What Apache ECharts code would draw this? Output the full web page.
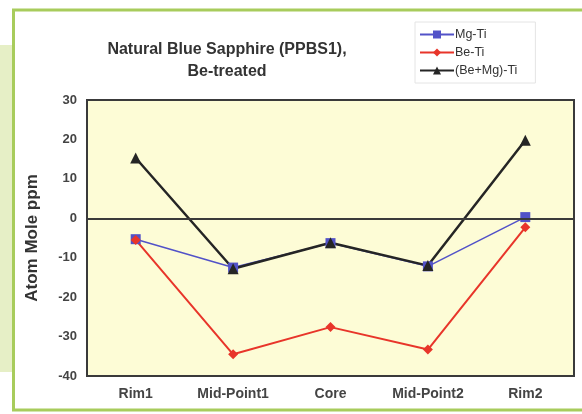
<!DOCTYPE html>
<html>
<head>
<meta charset="utf-8">
<script src="https://cdn.jsdelivr.net/npm/echarts@6/dist/echarts.min.js"></script>
<style>
html,body{margin:0;padding:0;background:#fff;}
#c{width:582px;height:414px;}
</style>
</head>
<body>
<div id="c"></div>
<script>
const categories = ['Rim1', 'Mid-Point1', 'Core', 'Mid-Point2', 'Rim2'];
const mgTi = [-5.3, -12.5, -6.3, -12.2, 0.3];
const beTi = [-5.5, -34.5, -27.6, -33.3, -2.3];
const beMgTi = [15.3, -12.8, -6.2, -12.0, 19.8];
const seriesNames = ['Mg-Ti', 'Be-Ti', '(Be+Mg)-Ti'];
const yMin = -40, yMax = 30, yStep = 10;

const chart = echarts.init(document.getElementById('c'), null, {renderer: 'canvas'});
const font = 'Liberation Sans, Arial, sans-serif';
chart.setOption({
  animation: false,
  backgroundColor: '#ffffff',
  graphic: [
    {type: 'rect', z: -10, shape: {x: 0, y: 45, width: 12, height: 327}, style: {fill: '#e6efc6'}},
    {type: 'rect', z: -9, shape: {x: 13.5, y: 10, width: 580, height: 400}, style: {fill: 'none', stroke: '#a8cc5c', lineWidth: 3}}
  ],
  title: {
    text: 'Natural Blue Sapphire (PPBS1),\nBe-treated',
    left: 222, top: 34, textAlign: 'center',
    textStyle: {fontFamily: font, fontSize: 16, fontWeight: 'bold', color: '#333', lineHeight: 22}
  },
  legend: {
    orient: 'vertical', left: 415, top: 22,
    itemWidth: 34, itemHeight: 10, itemGap: 5,
    padding: [6, 18, 6, 4],
    borderColor: '#e4e4e4', borderWidth: 1,
    textStyle: {fontFamily: font, fontSize: 12.5, color: '#333', padding: [0, 0, 0, -4]},
    data: seriesNames
  },
  grid: {
    left: 87, right: 8, top: 100, bottom: 38,
    show: true, backgroundColor: '#fdfcd6', borderColor: '#3a3a3a', borderWidth: 2
  },
  xAxis: {
    type: 'category', data: categories, boundaryGap: true,
    axisLine: {show: false}, axisTick: {show: false},
    axisLabel: {margin: 11, fontFamily: font, fontSize: 14, fontWeight: 'bold', color: '#444'}
  },
  yAxis: {
    type: 'value', min: yMin, max: yMax, interval: yStep,
    name: 'Atom Mole ppm', nameLocation: 'middle', nameRotate: 90, nameGap: 46,
    nameTextStyle: {fontFamily: font, fontSize: 17, fontWeight: 'bold', color: '#333'},
    axisLine: {show: false}, axisTick: {show: false}, splitLine: {show: false},
    axisLabel: {margin: 10, fontFamily: font, fontSize: 13, fontWeight: 'bold', color: '#444'}
  },
  series: [
    {
      name: seriesNames[0], type: 'line', data: mgTi,
      symbol: 'rect', symbolSize: 10, color: '#5252c8',
      lineStyle: {width: 1.5, color: '#5252c8'}, itemStyle: {color: '#5252c8'},
      markLine: {
        silent: true, symbol: 'none', label: {show: false},
        lineStyle: {color: '#3a3a3a', width: 2, type: 'solid'},
        data: [{yAxis: 0}]
      }
    },
    {
      name: seriesNames[1], type: 'line', data: beTi,
      symbol: 'diamond', symbolSize: 10, color: '#e8352a',
      lineStyle: {width: 2, color: '#e8352a'}, itemStyle: {color: '#e8352a'}
    },
    {
      name: seriesNames[2], type: 'line', data: beMgTi,
      symbol: 'triangle', symbolSize: 11, color: '#252525',
      lineStyle: {width: 2.5, color: '#252525'}, itemStyle: {color: '#252525'}
    }
  ]
});
</script>
</body>
</html>
